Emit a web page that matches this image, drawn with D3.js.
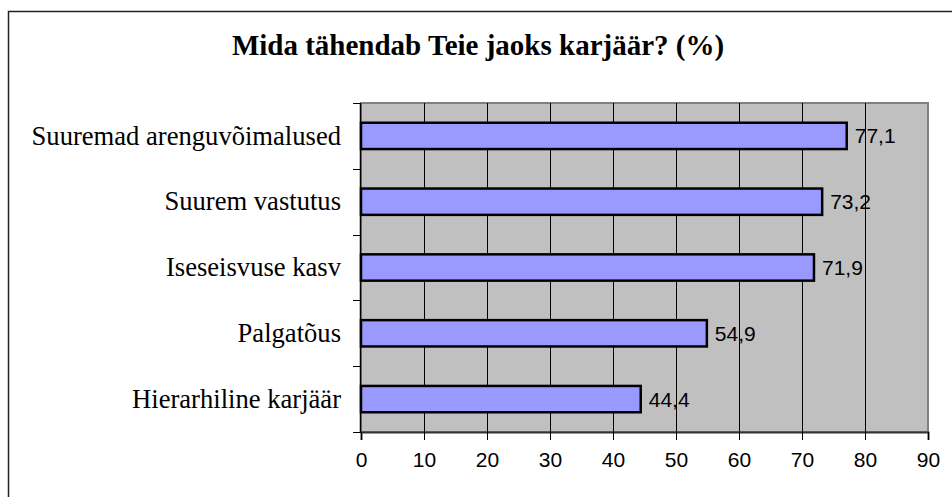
<!DOCTYPE html>
<html>
<head>
<meta charset="utf-8">
<script src="https://cdn.jsdelivr.net/npm/d3@7"></script>
<style>
  body { margin: 0; background: #fff; }
</style>
</head>
<body>
<svg id="chart" width="952" height="497"></svg>
<script>
const titleText = "Mida tähendab Teie jaoks karjäär? (%)";
const categories = ["Suuremad arenguvõimalused", "Suurem vastutus", "Iseseisvuse kasv", "Palgatõus", "Hierarhiline karjäär"];
const values = [77.1, 73.2, 71.9, 54.9, 44.4];
const xTicks = [0, 10, 20, 30, 40, 50, 60, 70, 80, 90];

const svg = d3.select("#chart");
const margin = {left: 361, right: 24, top: 103, bottom: 65};
const width = 952 - margin.left - margin.right;
const height = 497 - margin.top - margin.bottom;

// outer frame (runs off the right and bottom edges)
svg.append("rect")
    .attr("x", 8.5).attr("y", 11.5)
    .attr("width", 980).attr("height", 520)
    .attr("fill", "#fff")
    .attr("stroke", "#222")
    .attr("stroke-width", 1.5);

svg.append("text")
    .attr("x", 478).attr("y", 55)
    .attr("text-anchor", "middle")
    .style("font-family", "'Liberation Serif', 'Times New Roman', serif")
    .style("font-weight", "bold")
    .style("font-size", "29px")
    .text(titleText);

const x = d3.scaleLinear().domain([0, 90]).range([0, width]);
const y = d3.scaleBand().domain(categories).range([0, height]).paddingInner(0.6).paddingOuter(0.3);

const g = svg.append("g").attr("transform", `translate(${margin.left},${margin.top})`);

// plot background
g.append("rect")
    .attr("width", width).attr("height", height)
    .attr("fill", "#c0c0c0")
    .attr("stroke", "#808080")
    .attr("stroke-width", 2);

// gridlines
g.selectAll("line.grid")
    .data(xTicks.filter(d => d > 0 && d < 90))
    .join("line")
    .attr("class", "grid")
    .attr("x1", d => Math.round(x(d)) + 0.5).attr("x2", d => Math.round(x(d)) + 0.5)
    .attr("y1", 0).attr("y2", height)
    .attr("stroke", "#000");

// bars
g.selectAll("rect.bar")
    .data(values)
    .join("rect")
    .attr("class", "bar")
    .attr("x", 0)
    .attr("y", (d, i) => y(categories[i]))
    .attr("width", d => x(d))
    .attr("height", y.bandwidth())
    .attr("fill", "#9999ff")
    .attr("stroke", "#000")
    .attr("stroke-width", 2.5);

// value labels
g.selectAll("text.val")
    .data(values)
    .join("text")
    .attr("class", "val")
    .attr("x", d => x(d) + 8)
    .attr("y", (d, i) => y(categories[i]) + y.bandwidth() / 2)
    .attr("dy", "0.36em")
    .style("font-family", "'Liberation Sans', Arial, sans-serif")
    .style("font-size", "21px")
    .text(d => d.toFixed(1).replace(".", ","));

// x axis
const xAxis = g.append("g")
    .attr("transform", `translate(0,${height})`)
    .call(d3.axisBottom(x).tickValues(xTicks).tickSize(8).tickPadding(12));
xAxis.select(".domain").attr("stroke", "#333").attr("stroke-width", 2);
xAxis.selectAll(".tick line").attr("stroke", "#000");
xAxis.selectAll("text")
    .attr("fill", "#000")
    .style("font-family", "'Liberation Sans', Arial, sans-serif")
    .style("font-size", "21px");

// y axis: ticks on category boundaries
const boundaries = d3.range(categories.length + 1).map(i => i * height / categories.length);
g.append("line")
    .attr("x1", -0.5).attr("x2", -0.5)
    .attr("y1", 0).attr("y2", height)
    .attr("stroke", "#000").attr("stroke-width", 1.5);
g.selectAll("line.ytick")
    .data(boundaries)
    .join("line")
    .attr("class", "ytick")
    .attr("x1", -8).attr("x2", 0)
    .attr("y1", d => Math.round(d) + 0.5).attr("y2", d => Math.round(d) + 0.5)
    .attr("stroke", "#000");

g.selectAll("text.cat")
    .data(categories)
    .join("text")
    .attr("class", "cat")
    .attr("x", -20)
    .attr("y", d => y(d) + y.bandwidth() / 2)
    .attr("dy", "0.33em")
    .attr("text-anchor", "end")
    .style("font-family", "'Liberation Serif', 'Times New Roman', serif")
    .style("font-size", "26.6px")
    .text(d => d);
</script>
</body>
</html>
